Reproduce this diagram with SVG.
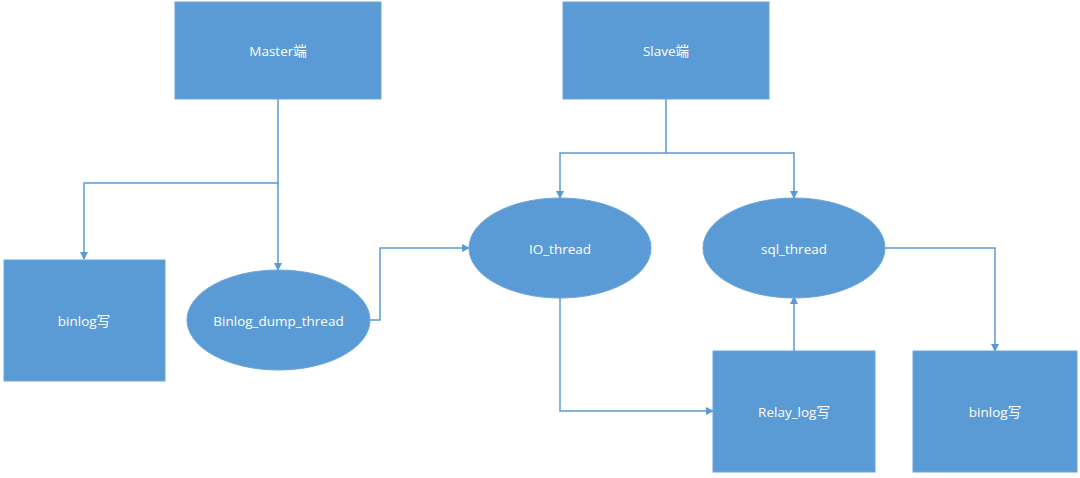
<svg xmlns="http://www.w3.org/2000/svg" width="1080" height="478" viewBox="0 0 1080 478">
<style>
.n{fill:#5b9bd5;stroke:#6aa5dc;stroke-width:1}
.t{fill:#ffffff;font-family:"Open Sans","Noto Sans CJK SC",sans-serif;font-size:13.5px;text-anchor:middle;dominant-baseline:central}
.c{fill:none;stroke:#5b9bd5;stroke-width:1.5}
</style>
<defs>
<marker id="a" markerWidth="8" markerHeight="8" refX="7" refY="4" orient="auto" markerUnits="userSpaceOnUse">
<path d="M0,0 L8,4 L0,8 Z" fill="#5b9bd5"/>
</marker>
</defs>
<rect width="1080" height="478" fill="#ffffff"/>
<g id="connectors">
<path class="c" d="M278,99 V183 H84 V259" marker-end="url(#a)"/>
<path class="c" d="M278,183 V270" marker-end="url(#a)"/>
<path class="c" d="M370,320 H380 V248 H469" marker-end="url(#a)"/>
<path class="c" d="M666,99 V153 H560 V198" marker-end="url(#a)"/>
<path class="c" d="M666,153 H794 V198" marker-end="url(#a)"/>
<path class="c" d="M560,297 V411 H713" marker-end="url(#a)"/>
<path class="c" d="M794,351 V297" marker-end="url(#a)"/>
<path class="c" d="M885,248 H995 V351" marker-end="url(#a)"/>
</g>
<g id="master"><rect class="n" x="175" y="2" width="206" height="97"/><text class="t" x="278" y="51">Master端</text></g>
<g id="slave"><rect class="n" x="563" y="2" width="206" height="97"/><text class="t" x="666" y="51">Slave端</text></g>
<g id="binlog-master"><rect class="n" x="4" y="260" width="161" height="121"/><text class="t" x="84" y="321">binlog写</text></g>
<g id="binlog-dump"><ellipse class="n" cx="278.5" cy="320" rx="91.5" ry="50"/><text class="t" x="278.5" y="321">Binlog_dump_thread</text></g>
<g id="io-thread"><ellipse class="n" cx="560" cy="248" rx="91" ry="50"/><text class="t" x="560" y="249">IO_thread</text></g>
<g id="sql-thread"><ellipse class="n" cx="794" cy="248" rx="91" ry="50"/><text class="t" x="794" y="249">sql_thread</text></g>
<g id="relay-log"><rect class="n" x="713" y="351" width="162" height="121"/><text class="t" x="794" y="412">Relay_log写</text></g>
<g id="binlog-slave"><rect class="n" x="913" y="351" width="164" height="121"/><text class="t" x="995" y="412">binlog写</text></g>
</svg>
